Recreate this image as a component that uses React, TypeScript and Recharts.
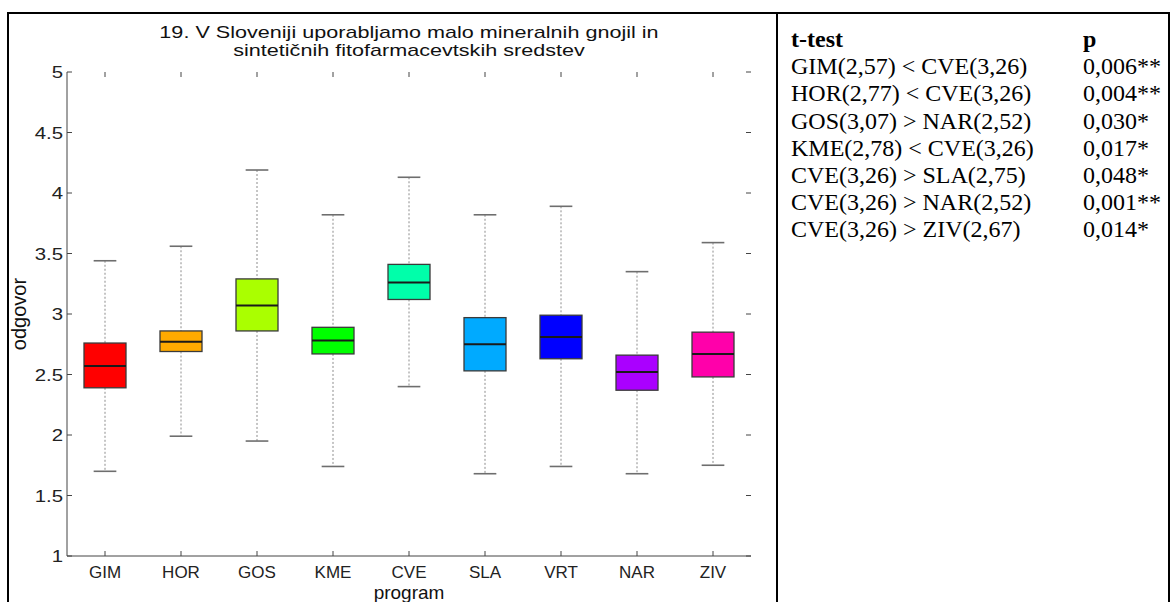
import { ComposedChart, Bar, XAxis, YAxis, Label } from 'recharts';

// box plot per programme: whisker ends, box edges and the mean line
const categories = ['GIM', 'HOR', 'GOS', 'KME', 'CVE', 'SLA', 'VRT', 'NAR', 'ZIV'];
const whiskerLow = [1.70, 1.99, 1.95, 1.74, 2.40, 1.68, 1.74, 1.68, 1.75];
const boxLow = [2.39, 2.69, 2.86, 2.67, 3.12, 2.53, 2.63, 2.37, 2.48];
const means = [2.57, 2.77, 3.07, 2.78, 3.26, 2.75, 2.81, 2.52, 2.67];
const boxHigh = [2.76, 2.86, 3.29, 2.89, 3.41, 2.97, 2.99, 2.66, 2.85];
const whiskerHigh = [3.44, 3.56, 4.19, 3.82, 4.13, 3.82, 3.89, 3.35, 3.59];
const boxColors = ['#ff0000', '#ffaa00', '#aaff00', '#00ff00', '#00ffaa', '#00aaff', '#0000ff', '#aa00ff', '#ff00aa'];
const yTicks = [1, 1.5, 2, 2.5, 3, 3.5, 4, 4.5, 5];

const tTests = [
  'GIM(2,57) < CVE(3,26)',
  'HOR(2,77) < CVE(3,26)',
  'GOS(3,07) > NAR(2,52)',
  'KME(2,78) < CVE(3,26)',
  'CVE(3,26) > SLA(2,75)',
  'CVE(3,26) > NAR(2,52)',
  'CVE(3,26) > ZIV(2,67)',
];
const pValues = ['0,006**', '0,004**', '0,030*', '0,017*', '0,048*', '0,001**', '0,014*'];

const data = categories.map((name, i) => ({
  name,
  box: [boxLow[i], boxHigh[i]],
  lo: whiskerLow[i],
  q1: boxLow[i],
  mean: means[i],
  q3: boxHigh[i],
  hi: whiskerHigh[i],
  color: boxColors[i],
}));

const FONT = '"Liberation Sans", Arial, sans-serif';
const SERIF = '"Liberation Serif", "Times New Roman", serif';
const AXIS = '#454545';
const PLOT = { left: 67, top: 72, right: 751, bottom: 556 };
const TICK_LEN = 5;

const BoxShape = (props: any) => {
  const { x, y, width, height, payload } = props;
  const top = Math.min(y, y + height);
  const h = Math.abs(height);
  const unit = h / (payload.q3 - payload.q1);
  const py = (v: number) => top + (payload.q3 - v) * unit;
  const cx = x + width / 2;
  const cap = width * 0.27;
  return (
    <g>
      <line x1={cx} x2={cx} y1={py(payload.hi)} y2={top} stroke="#8c8c8c" strokeDasharray="2 2" />
      <line x1={cx} x2={cx} y1={top + h} y2={py(payload.lo)} stroke="#8c8c8c" strokeDasharray="2 2" />
      <line x1={cx - cap} x2={cx + cap} y1={py(payload.hi)} y2={py(payload.hi)} stroke="#6e6e6e" strokeWidth={1.6} />
      <line x1={cx - cap} x2={cx + cap} y1={py(payload.lo)} y2={py(payload.lo)} stroke="#6e6e6e" strokeWidth={1.6} />
      <rect x={x} y={top} width={width} height={h} fill={payload.color} stroke="#3a3a3a" strokeWidth={1.3} />
      <line x1={x} x2={x + width} y1={py(payload.mean)} y2={py(payload.mean)} stroke="#1a1a1a" strokeWidth={2} />
    </g>
  );
};

// ticks point into the plot on all four sides
const XTick = ({ x, y, payload }: any) => (
  <g>
    <line x1={x} x2={x} y1={PLOT.bottom} y2={PLOT.bottom - TICK_LEN} stroke={AXIS} />
    <line x1={x} x2={x} y1={PLOT.top} y2={PLOT.top + TICK_LEN} stroke={AXIS} />
    <text x={x} y={y} dy="0.71em" textAnchor="middle" fill="#222" fontSize={17} fontFamily={FONT}>
      {payload.value}
    </text>
  </g>
);

const YTick = ({ x, y, payload }: any) => (
  <g>
    <line x1={PLOT.left} x2={PLOT.left + TICK_LEN} y1={y} y2={y} stroke={AXIS} />
    <line x1={PLOT.right - TICK_LEN} x2={PLOT.right} y1={y} y2={y} stroke={AXIS} />
    <text transform={`translate(${x},${y}) scale(1.2,1)`} dy="0.36em" textAnchor="end" fill="#222" fontSize={17} fontFamily={FONT}>
      {payload.value}
    </text>
  </g>
);

export default function App() {
  return (
    <div style={{ position: 'absolute', left: 0, top: 0, width: 1171, height: 602, overflow: 'hidden', background: '#fff' }}>
      {/* table frame */}
      <div style={{ position: 'absolute', left: 7, top: 12, width: 1163, height: 620, boxSizing: 'border-box', borderTop: '2px solid #000', borderLeft: '2px solid #000', borderRight: '2px solid #000' }} />
      <div style={{ position: 'absolute', left: 776, top: 12, width: 2, height: 620, background: '#000' }} />

      <div style={{ position: 'absolute', left: 109, top: 24, width: 600, textAlign: 'center', fontFamily: FONT, fontSize: 17, lineHeight: '18px', color: '#111', transform: 'scaleX(1.27)', transformOrigin: 'center' }}>
        19. V Sloveniji uporabljamo malo mineralnih gnojil in
        <br />
        sintetičnih fitofarmacevtskih sredstev
      </div>

      <ComposedChart
        width={776}
        height={602}
        data={data}
        margin={{ top: PLOT.top, right: 776 - PLOT.right, bottom: 16, left: 8 }}
        style={{ position: 'absolute', left: 0, top: 0 }}
      >
        <XAxis
          dataKey="name"
          height={30}
          stroke={AXIS}
          tickLine={false}
          tickSize={0}
          tickMargin={10}
          tick={<XTick />}
          interval={0}
        >
          <Label
            content={({ viewBox }: any) => (
              <text x={viewBox.x + viewBox.width / 2} y={viewBox.y + viewBox.height + 13} textAnchor="middle" fill="#111" fontSize={19} fontFamily={FONT}>
                program
              </text>
            )}
          />
        </XAxis>
        <XAxis xAxisId="top" dataKey="name" orientation="top" height={0} stroke={AXIS} tick={false} tickLine={false} />
        <YAxis
          type="number"
          domain={[1, 5]}
          ticks={yTicks}
          width={59}
          stroke={AXIS}
          tickLine={false}
          tickSize={0}
          tickMargin={4}
          tick={<YTick />}
          interval={0}
        >
          <Label
            content={({ viewBox }: any) => (
              <text
                x={viewBox.x + 11}
                y={viewBox.y + viewBox.height / 2}
                transform={`rotate(-90, ${viewBox.x + 11}, ${viewBox.y + viewBox.height / 2})`}
                textAnchor="middle"
                dominantBaseline="central"
                fill="#111"
                fontSize={20}
                fontFamily={FONT}
              >
                odgovor
              </text>
            )}
          />
        </YAxis>
        <YAxis yAxisId="right" orientation="right" type="number" domain={[1, 5]} width={0} stroke={AXIS} tick={false} tickLine={false} />
        <Bar dataKey="box" barSize={42} shape={<BoxShape />} isAnimationActive={false} />
      </ComposedChart>

      {/* t-test table */}
      <div style={{ position: 'absolute', left: 791, top: 26, fontFamily: SERIF, fontSize: 24, lineHeight: '27.2px', color: '#000' }}>
        <div style={{ fontWeight: 'bold' }}>t-test</div>
        {tTests.map((t) => (
          <div key={t}>{t}</div>
        ))}
      </div>
      <div style={{ position: 'absolute', left: 1083, top: 26, fontFamily: SERIF, fontSize: 24, lineHeight: '27.2px', color: '#000' }}>
        <div style={{ fontWeight: 'bold' }}>p</div>
        {pValues.map((p, i) => (
          <div key={i}>{p}</div>
        ))}
      </div>
    </div>
  );
}
